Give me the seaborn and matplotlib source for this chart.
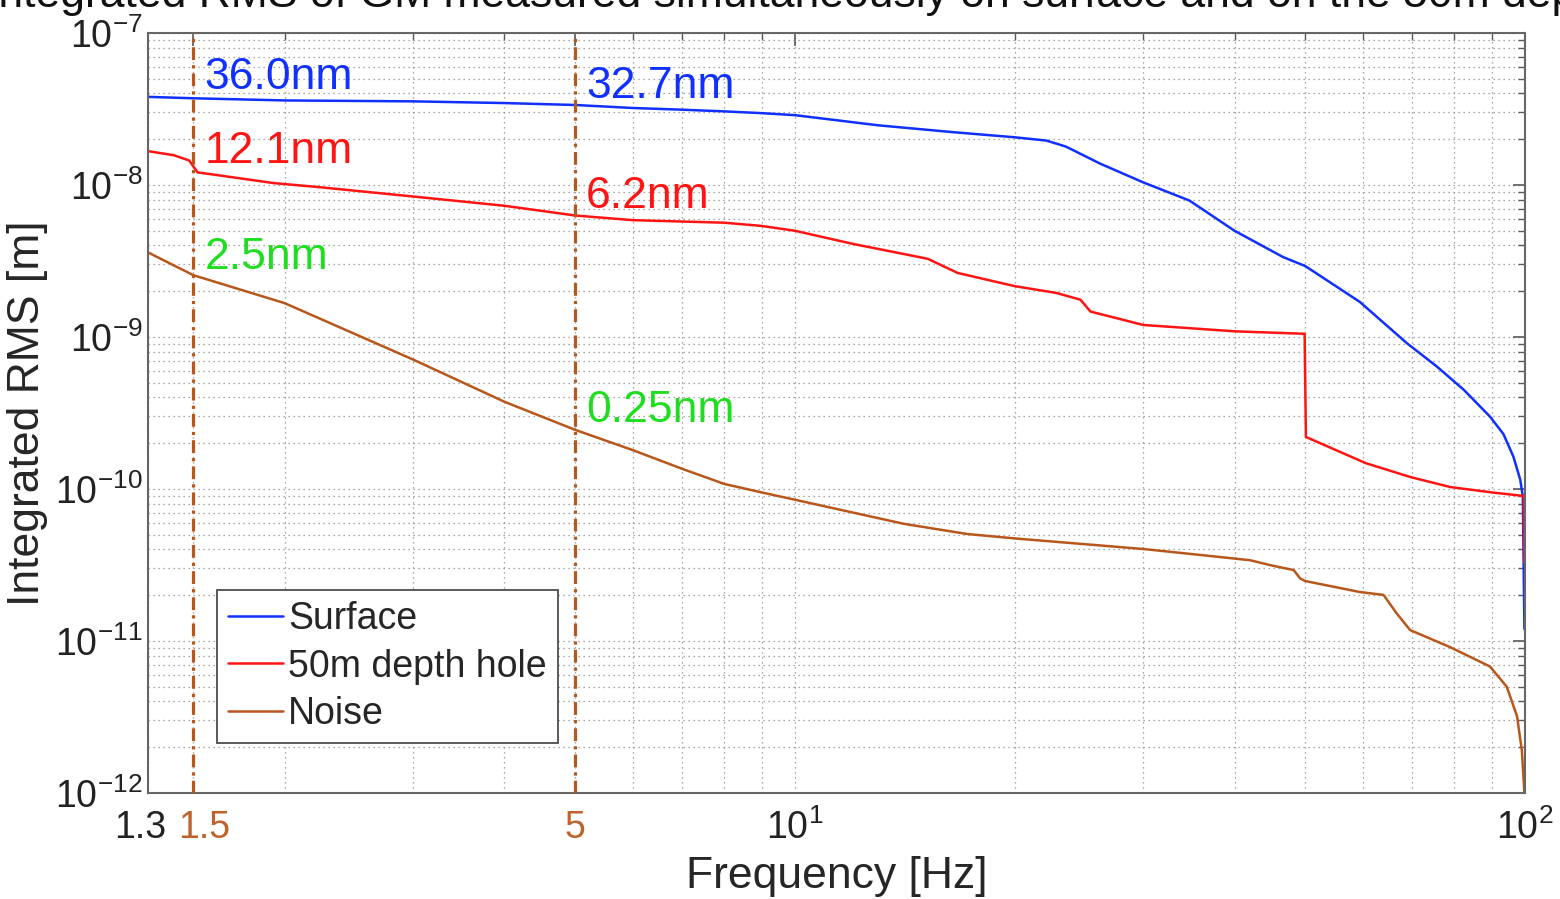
import numpy as np
import pandas as pd
import matplotlib
matplotlib.use('Agg')
import matplotlib.pyplot as plt
import seaborn as sns
from matplotlib.ticker import LogLocator, NullFormatter

# ==========================================
# data (log-log integrated RMS curves)
# ==========================================
SURFACE_FREQ = [1.3, 1.5, 2, 3, 4, 5, 6, 7, 8, 9, 10, 13, 16.4, 20, 22.1, 23.5, 26.2,
                30, 34.7, 40, 46.6, 50, 59.4, 68.9, 75.7, 82.4, 89.5, 93.4, 96.4, 98.5,
                99.3, 99.8]
SURFACE_RMS = [3.80e-8, 3.72e-8, 3.60e-8, 3.55e-8, 3.46e-8, 3.36e-8, 3.21e-8, 3.13e-8,
               3.05e-8, 2.97e-8, 2.88e-8, 2.47e-8, 2.23e-8, 2.06e-8, 1.96e-8, 1.79e-8,
               1.38e-8, 1.04e-8, 7.9e-9, 5.0e-9, 3.36e-9, 2.93e-9, 1.70e-9, 9.1e-10,
               6.4e-10, 4.5e-10, 3.0e-10, 2.3e-10, 1.63e-10, 1.15e-10, 8.9e-11, 1.2e-11]

HOLE_FREQ = [1.3, 1.41, 1.48, 1.52, 1.6, 1.93, 2.22, 3, 4, 5, 6, 7, 8, 9, 10, 12,
             15.2, 16.7, 20, 22.8, 24.6, 25.4, 30, 40, 49.9, 50.1, 60.5, 69.6, 79,
             90, 99.6, 99.8]
HOLE_RMS = [1.67e-8, 1.57e-8, 1.45e-8, 1.21e-8, 1.17e-8, 1.03e-8, 9.7e-9, 8.4e-9,
            7.3e-9, 6.3e-9, 5.87e-9, 5.75e-9, 5.65e-9, 5.38e-9, 5.0e-9, 4.1e-9,
            3.27e-9, 2.64e-9, 2.16e-9, 1.95e-9, 1.76e-9, 1.47e-9, 1.2e-9, 1.09e-9,
            1.05e-9, 2.2e-10, 1.48e-10, 1.2e-10, 1.03e-10, 9.5e-11, 9.0e-11, 3.3e-11]

NOISE_FREQ = [1.3, 1.5, 2, 3, 4, 5, 6, 7, 8, 9, 10, 14.1, 17.2, 20, 30, 38.6, 42,
              45.1, 48.2, 49.2, 50, 59.4, 64, 66.7, 69.6, 79, 89.5, 94.4, 97.5, 99,
              99.8]
NOISE_RMS = [3.6e-9, 2.55e-9, 1.67e-9, 7.1e-10, 3.75e-10, 2.45e-10, 1.8e-10, 1.36e-10,
             1.08e-10, 9.5e-11, 8.5e-11, 5.9e-11, 5.06e-11, 4.73e-11, 4.03e-11, 3.55e-11,
             3.4e-11, 3.13e-11, 2.93e-11, 2.58e-11, 2.48e-11, 2.1e-11, 2.01e-11, 1.52e-11,
             1.18e-11, 9.1e-12, 6.8e-12, 5.0e-12, 3.2e-12, 1.9e-12, 1.0e-12]

SERIES = ['Surface', '50m depth hole', 'Noise']
MARK_FREQ = [1.5, 5]
# (series, freq, label text, baseline value)
ANNOTATIONS = [
    ('Surface', 1.5, '36.0nm', 4.28e-8),
    ('Surface', 5, '32.7nm', 3.73e-8),
    ('50m depth hole', 1.5, '12.1nm', 1.40e-8),
    ('50m depth hole', 5, '6.2nm', 7.06e-9),
    ('Noise', 1.5, '2.5nm', 2.8e-9),
    ('Noise', 5, '0.25nm', 2.77e-10),
]
X_TICKS = [1.3, 1.5, 5, 10, 100]
X_TICK_LABELS = ['', '', '5', r'$\mathdefault{10^{1}}$', r'$\mathdefault{10^{2}}$']
# the two crowded low-frequency labels, nudged apart as in the original (points)
EDGE_LABELS = [(1.3, '1.3', -6, '#222222'), (1.5, '1.5', 8, '#c0622a')]
TITLE = 'Integrated RMS of GM measured simultaneously on surface and on the 50m depth hole'

BLUE = '#1030ff'
RED = '#ff1414'
BROWN = '#b8571c'
GREEN = '#1fdd1f'
TICK_BROWN = '#c0622a'
LINE_COLORS = {'Surface': BLUE, '50m depth hole': RED, 'Noise': BROWN}
TEXT_COLORS = {'Surface': BLUE, '50m depth hole': RED, 'Noise': GREEN}

df = pd.concat([
    pd.DataFrame({'freq': SURFACE_FREQ, 'rms': SURFACE_RMS, 'series': 'Surface'}),
    pd.DataFrame({'freq': HOLE_FREQ, 'rms': HOLE_RMS, 'series': '50m depth hole'}),
    pd.DataFrame({'freq': NOISE_FREQ, 'rms': NOISE_RMS, 'series': 'Noise'}),
], ignore_index=True)

sns.set_style('white')
plt.rcParams['font.family'] = ['Liberation Sans', 'DejaVu Sans']
plt.rcParams['axes.unicode_minus'] = False

fig = plt.figure(figsize=(15.6, 8.99), dpi=100)
ax = fig.add_axes([0.0949, 0.1179, 0.8827, 0.8454])

sns.lineplot(data=df, x='freq', y='rms', hue='series', hue_order=SERIES,
             palette=LINE_COLORS, sort=False, estimator=None, linewidth=1.8, ax=ax)

for f in MARK_FREQ:
    ax.axvline(f, color=BROWN, lw=2.3, ls=(0, (4, 1.6, 1, 1.6)), zorder=3)

for name, f, txt, yv in ANNOTATIONS:
    ax.text(f * 1.035, yv, txt, color=TEXT_COLORS[name], fontsize=32,
            ha='left', va='baseline', zorder=5)

ax.set_xscale('log')
ax.set_yscale('log')
ax.set_xlim(1.3, 100)
ax.set_ylim(1e-12, 1e-7)

ax.set_xticks(X_TICKS)
ax.set_xticklabels(X_TICK_LABELS)
ax.xaxis.set_minor_locator(LogLocator(base=10, subs=np.arange(2, 10)))
ax.xaxis.set_minor_formatter(NullFormatter())
ax.yaxis.set_major_locator(LogLocator(base=10, numticks=10))
ax.yaxis.set_minor_locator(LogLocator(base=10, subs=np.arange(2, 10), numticks=20))
ax.yaxis.set_minor_formatter(NullFormatter())

ax.tick_params(which='both', direction='in', top=True, right=True,
               labelsize=27, colors='0.35', labelcolor='#222222')
ax.tick_params(which='major', length=9, width=1.2)
ax.tick_params(which='minor', length=5, width=1.0)
ax.tick_params(axis='x', which='major', pad=12)
ax.tick_params(axis='y', which='major', pad=4)
for lab in ax.get_xticklabels():
    if lab.get_text() == '5':
        lab.set_color(TICK_BROWN)

for f, txt, dx, col in EDGE_LABELS:
    ax.annotate(txt, xy=(f, 0), xycoords=('data', 'axes fraction'),
                xytext=(dx, -12), textcoords='offset points',
                ha='center', va='top', fontsize=27, color=col)

ax.grid(True, which='both', color='0.55', linestyle=(0, (1, 3)), linewidth=0.9)
for sp in ax.spines.values():
    sp.set_color('0.4')
    sp.set_linewidth(1.5)

ax.set_xlabel('Frequency [Hz]', fontsize=32, labelpad=6)
ax.set_ylabel('Integrated RMS [m]', fontsize=32)
ax.yaxis.set_label_coords(-0.0725, 0.5)

sns.move_legend(ax, 'upper left', bbox_to_anchor=(0.05, 0.267), borderaxespad=0,
                title=None, frameon=True, fancybox=False, fontsize=27,
                handlelength=1.45, handletextpad=0.15, labelspacing=0.3,
                borderpad=0.3, edgecolor='0.3', framealpha=1)
ax.get_legend().get_frame().set_linewidth(1.3)

fig.text(-14 / 1560, 0.9922, TITLE, fontsize=32, ha='left', va='baseline', color='#111111')

plt.savefig('out.png', dpi=100)
